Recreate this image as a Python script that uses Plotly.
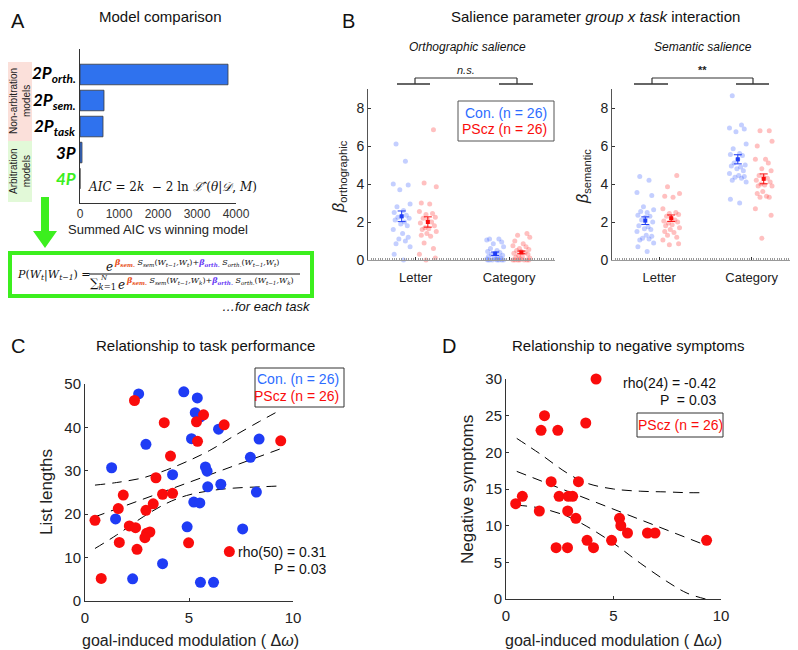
import plotly.graph_objects as go

W, H = 798, 650
OFF = 8  # page body margin pushes the figure 8px right/down in the browser
FONT = "Liberation Sans"
MATH = "DejaVu Serif"
GREEN = "#3cef1e"
BLUE = "#1f3cf5"
RED = "#fa0c0c"
LBLUE = "rgba(60,95,255,0.30)"
LRED = "rgba(255,60,60,0.32)"


def fx(x):
    return (x - OFF) / W


def fy(y):
    return 1 - (y - OFF) / H


# ---- panel A data
models = ["2P<sub>orth.</sub>", "2P<sub>sem.</sub>", "2P<sub>task</sub>", "3P", "4P"]
model_colors = ["black", "black", "black", "black", GREEN]
aic_diff = [3795, 615, 590, 51, 0]

# ---- panel B data (individual betas)
ortho_letter_con = [6.1, 5.2, 4.0, 3.95, 3.7, 2.95, 2.8, 2.6, 2.5, 2.35, 2.3, 2.25, 2.2,
                    2.1, 2.0, 1.9, 1.8, 1.6, 1.4, 1.2, 1.1, 1.0, 0.85, 0.7, 0.3, 0.0]
ortho_letter_pscz = [6.85, 4.05, 3.85, 3.0, 2.95, 2.55, 2.45, 2.4, 2.25, 2.2, 2.1, 2.0, 1.95,
                     1.8, 1.7, 1.65, 1.6, 1.5, 1.4, 1.3, 1.25, 0.9, 0.6, 0.3, 0.1, 0.0]
ortho_cat_con = [1.1, 1.1, 1.05, 0.95, 0.85, 0.7, 0.6, 0.5, 0.45, 0.4, 0.35, 0.3, 0.25,
                 0.2, 0.15, 0.1, 0.1, 0.05, 0.05, 0.0, 0.0, 0.0, 0.0, 0.0, 0.0, 0.0]
ortho_cat_pscz = [1.4, 1.3, 1.2, 1.0, 0.85, 0.75, 0.7, 0.6, 0.55, 0.5, 0.45, 0.4, 0.35,
                  0.3, 0.25, 0.2, 0.15, 0.1, 0.05, 0.0, 0.0, 0.0, 0.0, 0.0, 0.0, 0.0]
sem_letter_con = [4.4, 4.2, 3.55, 3.4, 2.8, 2.65, 2.55, 2.5, 2.35, 2.3, 2.25, 2.1, 2.0,
                  1.8, 1.75, 1.65, 1.6, 1.5, 1.3, 1.25, 1.15, 1.1, 1.05, 0.9, 0.7, 0.45]
sem_letter_pscz = [4.45, 3.85, 3.5, 3.35, 3.3, 2.7, 2.5, 2.45, 2.4, 2.3, 2.2, 2.1, 2.05,
                   2.0, 1.95, 1.85, 1.8, 1.7, 1.6, 1.5, 1.45, 1.3, 1.2, 1.05, 0.85, 0.8]
sem_cat_con = [8.65, 7.1, 6.95, 6.9, 6.75, 6.1, 5.85, 5.6, 5.55, 5.5, 5.3, 5.1, 5.0,
               4.95, 4.9, 4.8, 4.7, 4.55, 4.45, 4.4, 4.35, 4.3, 4.2, 4.1, 3.2, 3.0]
sem_cat_pscz = [6.8, 6.8, 6.25, 6.0, 5.3, 5.3, 5.1, 4.8, 4.7, 4.45, 4.35, 4.3, 4.2,
                4.1, 4.0, 3.95, 3.9, 3.9, 3.6, 3.5, 3.35, 3.3, 3.3, 2.7, 2.35, 1.15]
# group means and SEM as drawn
ortho_mean_con = [2.3, 0.33]
ortho_sem_con = [0.28, 0.09]
ortho_mean_pscz = [2.0, 0.4]
ortho_sem_pscz = [0.27, 0.07]
sem_mean_con = [2.07, 5.3]
sem_sem_con = [0.2, 0.24]
sem_mean_pscz = [2.2, 4.27]
sem_sem_pscz = [0.17, 0.26]
tasks = ["Letter", "Category"]
JITTER = [-0.06, 0.04, -0.09, 0.07, -0.02, 0.09, -0.05, 0.02, -0.08, 0.05, 0.0, -0.04, 0.08,
          -0.07, 0.03, -0.01, 0.06, -0.09, 0.01, 0.07, -0.03, 0.04, -0.06, 0.09, -0.08, 0.02]

# ---- panel C data
c_con_x = [2.58, 4.75, 5.4, 5.3, 5.55, 5.12, 6.42, 8.37, 2.93, 1.28, 4.21, 5.79, 5.87,
           5.9, 6.53, 7.95, 8.24, 1.47, 5.23, 5.52, 4.91, 7.58, 3.73, 2.29, 5.55, 6.18]
c_con_y = [47.7, 48.2, 46.8, 43.4, 42.4, 37.4, 39.6, 37.3, 36.1, 30.7, 29.1, 30.9, 29.9,
           26.3, 26.9, 33.1, 25.1, 18.9, 22.8, 22.6, 17.1, 16.6, 8.6, 5.1, 4.3, 4.3]
c_pscz_x = [2.38, 3.81, 5.7, 5.36, 6.69, 5.41, 9.41, 4.11, 3.41, 1.84, 3.73, 4.21, 1.6,
            3.28, 2.93, 0.48, 2.13, 2.43, 3.12, 2.96, 2.88, 1.65, 4.98, 2.5, 6.94, 0.78]
c_pscz_y = [46.2, 41.1, 42.9, 41.3, 40.6, 36.8, 36.9, 33.4, 28.4, 24.4, 24.6, 24.8, 21.3,
            22.4, 20.9, 18.6, 17.3, 16.9, 15.9, 15.6, 14.6, 13.5, 13.4, 11.9, 11.4, 5.2]
c_fit_x = [0.48, 9.36]
c_fit_y = [19.4, 35.0]
c_ci_x = [0.48, 1.52, 2.8, 3.92, 4.88, 6.0, 7.12, 8.4, 9.36]
c_ci_hi = [26.7, 27.3, 28.4, 30.2, 32.1, 34.7, 37.9, 41.4, 43.9]
c_ci_lo = [12.1, 15.2, 19.4, 22.5, 24.3, 25.4, 26.0, 26.3, 26.5]

# ---- panel D data
d_x = [4.19, 1.79, 1.63, 2.41, 3.71, 2.1, 3.37, 0.45, 0.76, 1.55, 2.47, 2.9, 3.1,
       2.87, 3.25, 5.28, 5.34, 5.65, 6.58, 6.93, 9.33, 4.91, 3.77, 2.33, 2.86, 4.07]
d_y = [30, 25, 23, 23, 24, 16, 16, 13, 14, 12, 14, 14, 14,
       12, 11, 11, 10, 9, 9, 9, 8, 8, 8, 7, 7, 7]
d_fit_x = [0.5, 9.32]
d_fit_y = [17.4, 7.3]
d_ci_x = [0.5, 1.58, 2.83, 3.76, 5.0, 6.24, 7.48, 8.42, 9.28]
d_ci_hi = [21.9, 19.8, 17.2, 15.8, 15.0, 14.7, 14.6, 14.5, 14.5]
d_ci_lo = [12.8, 12.4, 11.3, 9.9, 7.6, 4.9, 2.4, 0.8, 0.0]

fig = go.Figure()

# ===== A: model comparison bars
fig.add_trace(go.Bar(
    x=aic_diff, y=list(range(len(models))), orientation="h", width=0.79,
    marker=dict(color="#2f72ee", line=dict(color="#3a3a3a", width=0.8)),
    xaxis="x", yaxis="y", hoverinfo="skip",
))

# ===== B: strip plots
b_sets = [
    ("x2", "y2", [ortho_letter_con, ortho_cat_con], [ortho_letter_pscz, ortho_cat_pscz],
     ortho_mean_con, ortho_sem_con, ortho_mean_pscz, ortho_sem_pscz),
    ("x3", "y3", [sem_letter_con, sem_cat_con], [sem_letter_pscz, sem_cat_pscz],
     sem_mean_con, sem_sem_con, sem_mean_pscz, sem_sem_pscz),
]
for xa, ya, con, pscz, mc, sc, mp, sp in b_sets:
    for i, (vc, vp) in enumerate(zip(con, pscz)):
        pos = i + 1
        fig.add_trace(go.Scatter(
            x=[pos - 0.15 + j for j in JITTER], y=vc, mode="markers",
            marker=dict(color=LBLUE, size=5), xaxis=xa, yaxis=ya, cliponaxis=False,
        ))
        fig.add_trace(go.Scatter(
            x=[pos + 0.13 - j for j in JITTER], y=vp, mode="markers",
            marker=dict(color=LRED, size=5), xaxis=xa, yaxis=ya, cliponaxis=False,
        ))
    fig.add_trace(go.Scatter(
        x=[1 - 0.15, 2 - 0.15], y=mc, mode="markers",
        marker=dict(color=BLUE, size=4, symbol="square"),
        error_y=dict(type="data", array=sc, color=BLUE, thickness=1, width=4),
        xaxis=xa, yaxis=ya, cliponaxis=False,
    ))
    fig.add_trace(go.Scatter(
        x=[1 + 0.13, 2 + 0.13], y=mp, mode="markers",
        marker=dict(color=RED, size=4, symbol="square"),
        error_y=dict(type="data", array=sp, color=RED, thickness=1, width=4),
        xaxis=xa, yaxis=ya, cliponaxis=False,
    ))

# ===== C: task performance
dash = "10px,7px"
for ys in (c_ci_hi, c_ci_lo):
    fig.add_trace(go.Scatter(x=c_ci_x, y=ys, mode="lines", line=dict(color="black", width=1, dash=dash),
                             line_shape="spline", xaxis="x4", yaxis="y4"))
fig.add_trace(go.Scatter(x=c_fit_x, y=c_fit_y, mode="lines", line=dict(color="black", width=1, dash=dash),
                         xaxis="x4", yaxis="y4"))
fig.add_trace(go.Scatter(x=c_con_x, y=c_con_y, mode="markers", marker=dict(color=BLUE, size=11),
                         xaxis="x4", yaxis="y4", cliponaxis=False))
fig.add_trace(go.Scatter(x=c_pscz_x, y=c_pscz_y, mode="markers", marker=dict(color=RED, size=11),
                         xaxis="x4", yaxis="y4", cliponaxis=False))

# ===== D: negative symptoms
for ys in (d_ci_hi, d_ci_lo):
    fig.add_trace(go.Scatter(x=d_ci_x, y=ys, mode="lines", line=dict(color="black", width=1, dash=dash),
                             line_shape="spline", xaxis="x5", yaxis="y5"))
fig.add_trace(go.Scatter(x=d_fit_x, y=d_fit_y, mode="lines", line=dict(color="black", width=1, dash=dash),
                         xaxis="x5", yaxis="y5"))
fig.add_trace(go.Scatter(x=d_x, y=d_y, mode="markers", marker=dict(color=RED, size=11),
                         xaxis="x5", yaxis="y5", cliponaxis=False))

axis_common = dict(showgrid=False, zeroline=False, showline=True, linecolor="#333", linewidth=1,
                   automargin=False, ticks="inside", ticklen=3, tickcolor="#333",
                   tickfont=dict(size=14, color="#222"))

fig.update_layout(
    template="none",
    width=W, height=H, margin=dict(l=0, r=0, t=0, b=0, autoexpand=False),
    paper_bgcolor="white", plot_bgcolor="white", showlegend=False,
    font=dict(family=FONT, color="#111"),
    xaxis=dict(axis_common, domain=[fx(80), fx(236)], range=[0, 4000], tickvals=[0, 1000, 2000, 3000, 4000],
               ticks="", tickfont=dict(size=12, color="#333"), anchor="y"),
    yaxis=dict(axis_common, domain=[fy(203), fy(49)], range=[4.94, -0.98], showticklabels=False,
               ticks="", anchor="x"),
    xaxis2=dict(axis_common, domain=[fx(368), fx(555)], range=[0.49, 2.49], tickvals=[1, 2], ticktext=tasks,
                linecolor="#999", tickfont=dict(size=13, color="#222"), anchor="y2", ticklabelstandoff=5,
                minor=dict(ticks="inside", ticklen=2, dtick=0.025, tickcolor="#999")),
    yaxis2=dict(axis_common, domain=[fy(260), fy(89)], range=[0, 9], tickvals=[0, 2, 4, 6, 8],
                linecolor="#555", anchor="x2"),
    xaxis3=dict(axis_common, domain=[fx(612), fx(797)], range=[0.49, 2.49], tickvals=[1, 2], ticktext=tasks,
                linecolor="#999", tickfont=dict(size=13, color="#222"), anchor="y3", ticklabelstandoff=5,
                minor=dict(ticks="inside", ticklen=2, dtick=0.025, tickcolor="#999")),
    yaxis3=dict(axis_common, domain=[fy(260), fy(89)], range=[0, 9], tickvals=[0, 2, 4, 6, 8],
                linecolor="#555", anchor="x3"),
    xaxis4=dict(axis_common, domain=[fx(85), fx(293)], range=[0, 10], tickvals=[0, 5, 10], anchor="y4",
                tickfont=dict(size=15, color="#222"), ticklabelstandoff=3),
    yaxis4=dict(axis_common, domain=[fy(601), fy(384)], range=[0, 50], tickvals=[0, 10, 20, 30, 40, 50],
                anchor="x4", tickfont=dict(size=15, color="#222")),
    xaxis5=dict(axis_common, domain=[fx(506), fx(721)], range=[0, 10], tickvals=[0, 5, 10], anchor="y5",
                tickfont=dict(size=15, color="#222"), ticklabelstandoff=3),
    yaxis5=dict(axis_common, domain=[fy(599), fy(379)], range=[0, 30], tickvals=[0, 5, 10, 15, 20, 25, 30],
                anchor="x5", tickfont=dict(size=15, color="#222")),
)

ann = []


def text(x, y, s, size=14, color="#111", anchor="center", family=FONT, angle=0):
    ann.append(dict(
        x=fx(x), y=fy(y), xref="paper", yref="paper", text=s, showarrow=False,
        xanchor=anchor, yanchor="middle", textangle=angle,
        font=dict(size=size, color=color, family=family),
    ))


shapes = []


def line(x0, y0, x1, y1, color="#333", width=1.5):
    shapes.append(dict(type="line", xref="paper", yref="paper", x0=fx(x0), y0=fy(y0), x1=fx(x1), y1=fy(y1),
                       line=dict(color=color, width=width)))


def rect(x0, y0, x1, y1, color="#555", width=1, fill="rgba(0,0,0,0)", layer="above"):
    shapes.append(dict(type="rect", xref="paper", yref="paper", x0=fx(x0), y0=fy(y0), x1=fx(x1), y1=fy(y1),
                       line=dict(color=color, width=width), fillcolor=fill, layer=layer))


# ---- panel letters and titles
text(9, 21, "A", size=20, anchor="left")
text(160, 17, "Model comparison", size=15)
text(340, 21, "B", size=20, anchor="left")
text(595, 17, "Salience parameter <i>group x task</i> interaction", size=15)
text(9, 346, "C", size=20, anchor="left")
text(205, 345, "Relationship to task performance", size=15)
text(440, 346, "D", size=20, anchor="left")
text(628, 345, "Relationship to negative symptoms", size=15)

# ---- A decorations
rect(8, 62, 32, 141, color="rgba(0,0,0,0)", width=0, fill="#fbe0da", layer="below")
rect(8, 141, 32, 202, color="rgba(0,0,0,0)", width=0, fill="#e2f9d8", layer="below")
text(20, 101, "Non-arbitration<br>models", size=10, angle=-90, color="#222")
text(20, 171, "Arbitration<br>models", size=10, angle=-90, color="#222")
for i, (m, c) in enumerate(zip(models, model_colors)):
    ann.append(dict(x=fx(78), y=i, xref="paper", yref="y", text="<b><i>" + m + "</i></b>", showarrow=False,
                    xanchor="right", yanchor="middle", font=dict(size=17, color=c, family="Lato")))
text(172, 187, "<i>AIC</i> = 2<i>k</i>  − 2 ln <i>ℒ̂</i> (<i>θ</i>|<i>𝒟</i>, <i>M</i>)", size=12, family=MATH)
text(158, 229, "Summed AIC vs winning model", size=13, color="#222")

# green arrow
path = "M {} {} L {} {} L {} {} L {} {} L {} {} L {} {} L {} {} Z".format(
    fx(41), fy(197), fx(49), fy(197), fx(49), fy(231), fx(57), fy(231),
    fx(45), fy(248), fx(33), fy(231), fx(41), fy(231))
shapes.append(dict(type="path", xref="paper", yref="paper", path=path, fillcolor=GREEN,
                   line=dict(color=GREEN, width=0)))
rect(10, 253, 312, 296, color=GREEN, width=4)

# formula
bs = "<span style='color:#e8501a'><b><i>β<sub>sem.</sub></i></b></span>"
bo = "<span style='color:#6a3cf5'><b><i>β<sub>orth.</sub></i></b></span>"
num_exp = bs + " <i>S<sub>sem</sub></i>(<i>W<sub>t−1</sub>,W<sub>t</sub></i>)+" + bo + \
    " <i>S<sub>orth.</sub></i>(<i>W<sub>t−1</sub>,W<sub>t</sub></i>)"
den_exp = bs + " <i>S<sub>sem</sub></i>(<i>W<sub>t−1</sub>,W<sub>k</sub></i>)+" + bo + \
    " <i>S<sub>orth.</sub></i>(<i>W<sub>t−1</sub>,W<sub>k</sub></i>)"
text(15, 275, "<i>P</i>(<i>W<sub>t</sub></i>|<i>W<sub>t−1</sub></i>) =", size=11, family=MATH, anchor="left")
text(104, 267, "<i>e</i>", size=12, family=MATH, anchor="left")
text(112, 262, num_exp, size=8, family=MATH, anchor="left")
line(89, 274, 300, 274, color="#111", width=1)
text(88, 284, "∑<sub><i>k</i>=1</sub>", size=12, family=MATH, anchor="left")
text(98, 278, "<i>N</i>", size=7, family=MATH, anchor="left")
text(116, 285, "<i>e</i>", size=12, family=MATH, anchor="left")
text(124, 281, den_exp, size=8, family=MATH, anchor="left")
text(313, 306, "<i>…for each task</i>", size=13, anchor="right")

# ---- B decorations
text(467, 47, "<i>Orthographic salience</i>", size=12)
text(703, 47, "<i>Semantic salience</i>", size=12)
for (l0, l1, r0, r1, v0, v1, lab, ly) in [(397, 430, 499, 533, 415, 517, "<i>n.s.</i>", 70),
                                          (634, 668, 736, 769, 652, 753, "<b>**</b>", 70)]:
    line(l0, 84, l1, 84)
    line(r0, 84, r1, 84)
    line(v0, 84, v0, 78, width=1.2)
    line(v1, 84, v1, 78, width=1.2)
    line(v0, 78, v1, 78, width=1.2)
    text((v0 + v1) / 2, ly, lab, size=11, color="#222")
text(339, 177, "<i>β</i><sub>orthographic</sub>", size=16, angle=-90, color="#222")
text(583, 177, "<i>β</i><sub>semantic</sub>", size=16, angle=-90, color="#222")
rect(458, 101, 554, 141, color="#555", width=1)
text(549, 113, "Con. (n = 26)", size=14, color="#2d6cff", anchor="right")
text(549, 129, "PScz (n = 26)", size=14, color=RED, anchor="right")

# ---- C decorations
text(47, 492, "List lengths", size=17, angle=-90, color="#222")
text(190, 640, "goal-induced modulation ( Δ<i>ω</i>)", size=16, color="#222")
rect(255, 368, 344, 407, color="#333", width=1)
text(341, 379, "Con. (n = 26)", size=14, color="#2d6cff", anchor="right")
text(341, 396, "PScz (n = 26)", size=14, color=RED, anchor="right")
text(329, 552, "rho(50) = 0.31", size=14, anchor="right")
text(329, 569, "P = 0.03", size=14, anchor="right")

# ---- D decorations
text(467, 490, "Negative symptoms", size=17, angle=-90, color="#222")
text(613, 640, "goal-induced modulation ( Δ<i>ω</i>)", size=16, color="#222")
text(718, 383, "rho(24) = -0.42", size=14, anchor="right")
text(718, 400, "P  = 0.03", size=14, anchor="right")
rect(637, 413, 723, 437, color="#333", width=1)
text(680, 425, "PScz (n = 26)", size=14, color=RED)

fig.update_layout(annotations=ann, shapes=shapes)
fig.write_html("out.html")
